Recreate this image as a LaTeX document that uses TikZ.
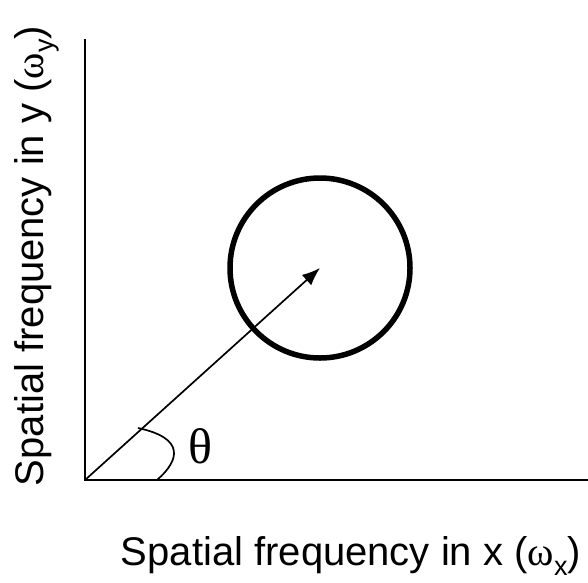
\documentclass[tikz,border=0pt]{standalone}
\usepackage{fontspec}
\setmainfont{Liberation Sans}
\newfontfamily\grkfont{Liberation Serif}
\usetikzlibrary{arrows.meta}

\begin{document}
\begin{tikzpicture}[
  x=1pt,y=-1pt,
  axis/.style={line width=2pt},
  ring/.style={draw,circle,line width=5.5pt,minimum size=180pt,inner sep=0pt},
  arr/.style={-{Latex[length=18pt,width=14pt]},line width=1.7pt},
  lbl/.style={font=\fontsize{40}{48}\selectfont,inner sep=0pt}
]
\useasboundingbox (0,0) rectangle (588,582);
\coordinate (origin) at (85,480);
\coordinate (ytop) at (85,39);
\coordinate (xend) at (588,480);
\coordinate (arcstart) at (138,428);
\coordinate (arcend) at (157,480);
\node[ring] (disk) at (320,268) {};
\draw[axis] (ytop) -- (origin) -- (xend);
\draw[arr] (origin) -- (disk.center);
\draw[line width=1.7pt] (arcstart) .. controls (185,438) and (180,460) .. (arcend);
\node[inner sep=0pt,font=\fontsize{50}{52}\selectfont\grkfont] (theta) at (200,446) {θ};
\node[lbl,anchor=base] (xlabel) at (351,565)
  {Spatial frequency in x ({\grkfont ω}\raisebox{-0.25em}{\fontsize{27}{27}\selectfont x})};
\node[lbl,rotate=90,anchor=base] (ylabel) at (43,256)
  {Spatial frequency in y ({\grkfont ω}\raisebox{-0.25em}{\fontsize{27}{27}\selectfont y})};
\end{tikzpicture}
\end{document}
